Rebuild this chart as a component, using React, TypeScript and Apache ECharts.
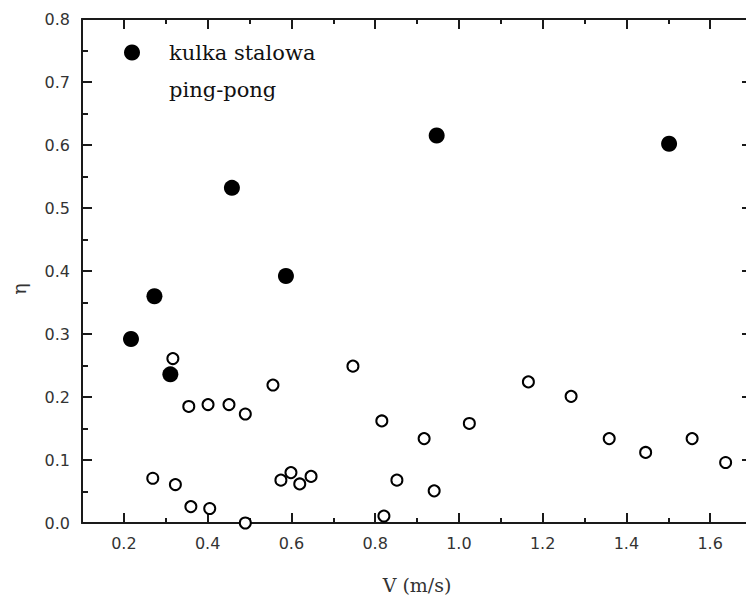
import React, { useEffect, useRef } from "react";
import * as echarts from "echarts";

const steelX = [0.217, 0.273, 0.311, 0.458, 0.587, 0.947, 1.502];
const steelY = [0.292, 0.36, 0.236, 0.532, 0.392, 0.615, 0.602];

const pingX = [
  0.317, 0.355, 0.401, 0.451, 0.49, 0.556, 0.747, 0.269, 0.323, 0.36, 0.405,
  0.49, 0.575, 0.599, 0.62, 0.647, 0.816, 0.821, 0.852, 0.917, 0.941, 1.025,
  1.166, 1.268, 1.359, 1.446, 1.557, 1.637,
];
const pingY = [
  0.261, 0.185, 0.188, 0.188, 0.173, 0.219, 0.249, 0.071, 0.061, 0.026, 0.023,
  0.0, 0.068, 0.08, 0.062, 0.074, 0.162, 0.011, 0.068, 0.134, 0.051, 0.158,
  0.224, 0.201, 0.134, 0.112, 0.134, 0.096,
];

const xMajorTicks = [0.2, 0.4, 0.6, 0.8, 1.0, 1.2, 1.4, 1.6];
const xMinorTicks = [0.1, 0.3, 0.5, 0.7, 0.9, 1.1, 1.3, 1.5, 1.7];
const yTickLabels = [0.0, 0.1, 0.2, 0.3, 0.4, 0.5, 0.6, 0.7, 0.8];

const seriesNames = ["kulka stalowa", "ping-pong"];

export default function App() {
  const ref = useRef<HTMLDivElement>(null);
  useEffect(() => {
    if (!ref.current) return;
    const chart = echarts.init(ref.current, undefined, { renderer: "svg" });
    const lineStyle = { color: "#1a1a1a", width: 2 };
    const tickStyle = { color: "#1a1a1a", width: 2 };
    const labelStyle = {
      color: "#333",
      fontSize: 16,
      fontFamily: "DejaVu Sans",
    };
    const baseX = {
      type: "value" as const,
      min: 0.1,
      max: 1.7,
      interval: 0.1,
      splitLine: { show: false },
    };
    const baseY = {
      type: "value" as const,
      min: 0,
      max: 0.8,
      interval: 0.1,
      splitLine: { show: false },
    };
    chart.setOption({
      animation: false,
      backgroundColor: "#fff",
      grid: { left: 82, right: 8, top: 19, bottom: 75 },
      legend: {
        orient: "vertical",
        left: 95,
        top: 37,
        itemWidth: 64,
        itemHeight: 16,
        itemGap: 16,
        selectedMode: false,
        textStyle: { fontFamily: "DejaVu Serif", fontSize: 21, color: "#111" },
        data: [
          { name: seriesNames[0], icon: "circle" },
          { name: seriesNames[1], icon: "none" },
        ],
      },
      xAxis: [
        {
          ...baseX,
          position: "bottom",
          name: "V (m/s)",
          nameLocation: "middle",
          nameGap: 52,
          nameTextStyle: { fontFamily: "DejaVu Serif", fontSize: 19, color: "#333" },
          axisLine: { show: true, lineStyle },
          axisTick: { show: true, inside: true, length: 10, lineStyle: tickStyle, customValues: xMajorTicks },
          axisLabel: {
            ...labelStyle,
            margin: 12,
            customValues: xMajorTicks,
            formatter: (v: number) => v.toFixed(1),
          },
        },
        {
          ...baseX,
          position: "bottom",
          axisLine: { show: false },
          axisTick: { show: true, inside: true, length: 5, lineStyle: tickStyle, customValues: xMinorTicks },
          axisLabel: { show: false },
        },
        {
          ...baseX,
          position: "top",
          axisLine: { show: true, lineStyle },
          axisTick: { show: true, inside: true, length: 10, lineStyle: tickStyle, customValues: xMajorTicks },
          axisLabel: { show: false },
        },
        {
          ...baseX,
          position: "top",
          axisLine: { show: false },
          axisTick: { show: true, inside: true, length: 5, lineStyle: tickStyle, customValues: xMinorTicks },
          axisLabel: { show: false },
        },
      ],
      yAxis: [
        {
          ...baseY,
          position: "left",
          name: "η",
          nameLocation: "middle",
          nameGap: 54,
          nameRotate: 90,
          nameTextStyle: {
            fontFamily: "DejaVu Serif",
            fontSize: 19,
            color: "#333",
            padding: [0, 36, 0, 0],
          },
          axisLine: { show: true, lineStyle },
          axisTick: { show: true, inside: true, length: 10, lineStyle: tickStyle, customValues: yTickLabels },
          minorTick: { show: true, splitNumber: 2, length: 6, lineStyle: tickStyle },
          axisLabel: {
            ...labelStyle,
            margin: 12,
            customValues: yTickLabels,
            formatter: (v: number) => v.toFixed(1),
          },
        },
        {
          ...baseY,
          position: "right",
          axisLine: { show: true, lineStyle },
          axisTick: { show: true, inside: true, length: 10, lineStyle: tickStyle },
          minorTick: { show: true, splitNumber: 2, length: 6, lineStyle: tickStyle },
          axisLabel: { show: false },
        },
      ],
      series: [
        {
          name: seriesNames[0],
          type: "scatter",
          xAxisIndex: 0,
          yAxisIndex: 0,
          symbol: "circle",
          symbolSize: 16,
          itemStyle: { color: "#000", opacity: 1 },
          data: steelX.map((x, i) => [x, steelY[i]]),
          z: 3,
        },
        {
          name: seriesNames[1],
          type: "scatter",
          xAxisIndex: 0,
          yAxisIndex: 0,
          symbol: "circle",
          symbolSize: 11,
          itemStyle: { color: "#fff", borderColor: "#000", borderWidth: 2, opacity: 1 },
          data: pingX.map((x, i) => [x, pingY[i]]),
          z: 4,
        },
      ],
    });
    return () => chart.dispose();
  }, []);
  return (
    <div
      style={{
        position: "absolute",
        left: 0,
        top: 0,
        width: 746,
        height: 599,
        overflow: "hidden",
      }}
    >
      <div ref={ref} style={{ width: 760, height: 599 }} />
    </div>
  );
}
